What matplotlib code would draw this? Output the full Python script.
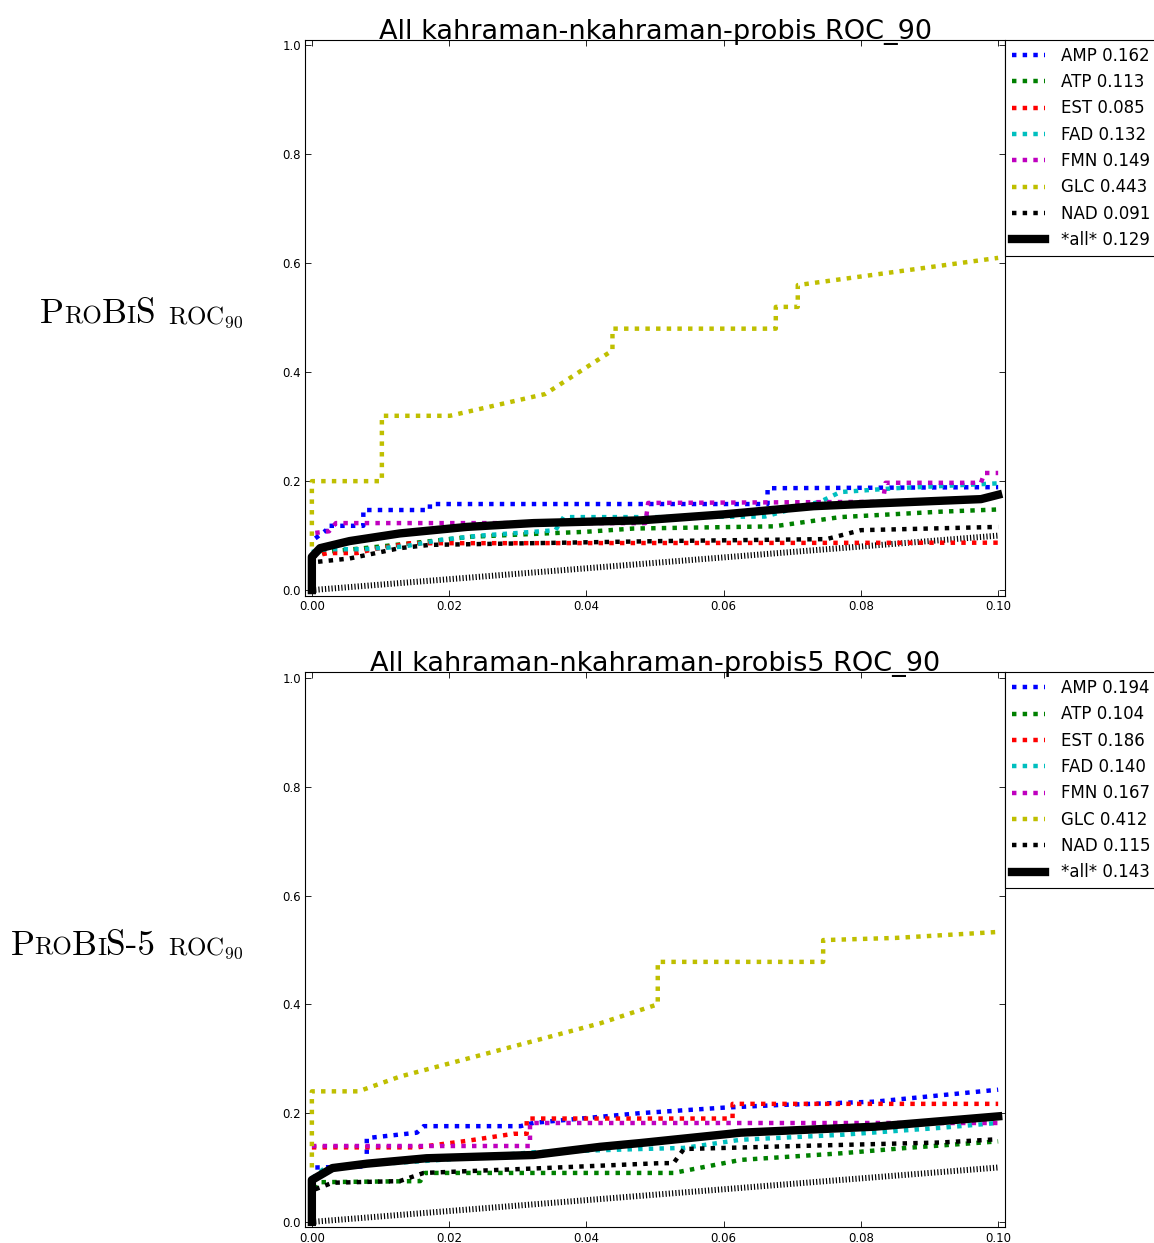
import matplotlib
matplotlib.use("Agg")
import matplotlib.pyplot as plt
from matplotlib.offsetbox import TextArea, HPacker, AnchoredOffsetbox, DrawingArea

plt.rcParams['mathtext.fontset'] = 'cm'

# ---- data --------------------------------------------------------------
ligands = ['AMP', 'ATP', 'EST', 'FAD', 'FMN', 'GLC', 'NAD']
lig_colors = ['b', 'g', 'r', 'c', 'm', 'y', 'k']

auc_probis = [0.162, 0.113, 0.085, 0.132, 0.149, 0.443, 0.091]
auc_all_probis = 0.129
auc_probis5 = [0.194, 0.104, 0.186, 0.140, 0.167, 0.412, 0.115]
auc_all_probis5 = 0.143

rand_x = [0.0, 0.1]
rand_y = [0.0, 0.1]

# probis (top panel)
p1_amp_x = [0.0005, 0.0021, 0.0021, 0.0075, 0.0075, 0.0172, 0.0172, 0.0664, 0.0664, 0.1]
p1_amp_y = [0.095, 0.11, 0.118, 0.118, 0.147, 0.147, 0.158, 0.158, 0.187, 0.189]
p1_atp_x = [0.0, 0.002, 0.01, 0.0233, 0.0321, 0.0399, 0.0469, 0.0673, 0.077, 0.0917, 0.1]
p1_atp_y = [0.06, 0.07, 0.08, 0.098, 0.103, 0.107, 0.113, 0.117, 0.134, 0.144, 0.148]
p1_est_x = [0.0, 0.0024, 0.0066, 0.009, 0.0144, 0.1]
p1_est_y = [0.062, 0.068, 0.068, 0.075, 0.086, 0.087]
p1_fad_x = [0.0, 0.002, 0.0075, 0.0134, 0.0187, 0.0245, 0.0323, 0.0355, 0.0367, 0.0505,
            0.066, 0.0742, 0.077, 0.085, 0.1]
p1_fad_y = [0.07, 0.075, 0.075, 0.08, 0.092, 0.10, 0.107, 0.11, 0.134, 0.134,
            0.135, 0.163, 0.18, 0.187, 0.196]
p1_fmn_x = [0.0005, 0.0025, 0.0035, 0.0486, 0.049, 0.0832, 0.0836, 0.0975, 0.098, 0.1]
p1_fmn_y = [0.105, 0.108, 0.123, 0.123, 0.16, 0.162, 0.197, 0.197, 0.215, 0.215]
p1_glc_x = [0.0, 0.0, 0.0102, 0.0102, 0.0201, 0.034, 0.0438, 0.0438, 0.0676, 0.0676,
            0.0708, 0.0708, 0.1]
p1_glc_y = [0.08, 0.2, 0.2, 0.32, 0.32, 0.36, 0.44, 0.48, 0.48, 0.52,
            0.52, 0.56, 0.61]
p1_nad_x = [0.0009, 0.0055, 0.0128, 0.0172, 0.051, 0.075, 0.08, 0.1]
p1_nad_y = [0.052, 0.058, 0.077, 0.083, 0.09, 0.0936, 0.11, 0.116]
p1_all_x = [0.0, 0.0, 0.0012, 0.0055, 0.0128, 0.0226, 0.0323, 0.0479, 0.06, 0.0731,
            0.082, 0.0975, 0.1]
p1_all_y = [0.0, 0.061, 0.077, 0.09, 0.104, 0.116, 0.123, 0.128, 0.139, 0.154,
            0.159, 0.167, 0.175]

# probis5 (bottom panel)
p5_amp_x = [0.0005, 0.008, 0.008, 0.0153, 0.0163, 0.0304, 0.0323, 0.0479, 0.06, 0.0683,
            0.082, 0.1]
p5_amp_y = [0.1, 0.102, 0.154, 0.164, 0.176, 0.176, 0.182, 0.2, 0.21, 0.215,
            0.221, 0.243]
p5_atp_x = [0.0005, 0.001, 0.0158, 0.0165, 0.0527, 0.0625, 0.077, 0.0867, 0.1]
p5_atp_y = [0.06, 0.073, 0.075, 0.09, 0.09, 0.114, 0.126, 0.136, 0.148]
p5_est_x = [0.0, 0.0153, 0.0226, 0.0294, 0.0313, 0.0313, 0.0613, 0.0613, 0.1]
p5_est_y = [0.137, 0.137, 0.149, 0.162, 0.162, 0.19, 0.19, 0.217, 0.217]
p5_fad_x = [0.0, 0.002, 0.008, 0.02, 0.0323, 0.0479, 0.0542, 0.0625, 0.077, 0.0917, 0.1]
p5_fad_y = [0.08, 0.1, 0.105, 0.115, 0.128, 0.134, 0.136, 0.151, 0.16, 0.173, 0.182]
p5_fmn_x = [0.0, 0.0318, 0.0318, 0.1]
p5_fmn_y = [0.14, 0.14, 0.181, 0.181]
p5_glc_x = [0.0, 0.0, 0.0068, 0.0128, 0.0274, 0.042, 0.0504, 0.0504, 0.0745, 0.0745,
            0.085, 0.1]
p5_glc_y = [0.1, 0.24, 0.24, 0.267, 0.316, 0.365, 0.40, 0.478, 0.478, 0.518,
            0.522, 0.533]
p5_nad_x = [0.0005, 0.003, 0.0128, 0.0163, 0.032, 0.0508, 0.0527, 0.0542, 0.0723,
            0.0917, 0.1]
p5_nad_y = [0.06, 0.072, 0.075, 0.09, 0.098, 0.108, 0.108, 0.134, 0.14, 0.146, 0.152]
p5_all_x = [0.0, 0.0, 0.003, 0.008, 0.0167, 0.0323, 0.042, 0.0479, 0.0625, 0.082, 0.1]
p5_all_y = [0.0, 0.077, 0.099, 0.107, 0.117, 0.123, 0.138, 0.145, 0.164, 0.175, 0.194]

probis_x = [p1_amp_x, p1_atp_x, p1_est_x, p1_fad_x, p1_fmn_x, p1_glc_x, p1_nad_x]
probis_y = [p1_amp_y, p1_atp_y, p1_est_y, p1_fad_y, p1_fmn_y, p1_glc_y, p1_nad_y]
probis5_x = [p5_amp_x, p5_atp_x, p5_est_x, p5_fad_x, p5_fmn_x, p5_glc_x, p5_nad_x]
probis5_y = [p5_amp_y, p5_atp_y, p5_est_y, p5_fad_y, p5_fmn_y, p5_glc_y, p5_nad_y]

xticks = [0.0, 0.02, 0.04, 0.06, 0.08, 0.10]
yticks = [0.0, 0.2, 0.4, 0.6, 0.8, 1.0]


def draw_panel(ax, xs, ys, aucs, all_x, all_y, all_auc, title):
    ax.plot(rand_x, rand_y, color='k', lw=4.3, linestyle=(0, (0.2, 0.35)))
    for x, y, name, c, a in zip(xs, ys, ligands, lig_colors, aucs):
        ax.plot(x, y, color=c, lw=3.2, linestyle=(0, (1, 1.4)),
                label='%s %.3f' % (name, a))
    ax.plot(all_x, all_y, color='k', lw=6, label='*all* %.3f' % all_auc)
    ax.set_xlim(-0.001, 0.101)
    ax.set_ylim(-0.01, 1.01)
    ax.set_xticks(xticks)
    ax.set_xticklabels(['%.2f' % t for t in xticks])
    ax.set_yticks(yticks)
    ax.set_yticklabels(['%.1f' % t for t in yticks])
    ax.tick_params(direction='in', top=True, right=True, labelsize=8.5,
                   length=4, width=0.6, pad=3)
    ax.set_title(title, fontsize=19.5, pad=1)
    leg = ax.legend(loc='upper left', bbox_to_anchor=(1, 1), borderaxespad=0,
                    fancybox=False, edgecolor='k', framealpha=1, fontsize=12,
                    handlelength=2, handletextpad=0.95)
    leg.get_frame().set_linewidth(0.8)


def side_label(fig, parts, y):
    kids = []
    for txt, fs in parts:
        if txt == ' ':
            kids.append(DrawingArea(9, 0))
        else:
            kids.append(TextArea(txt, textprops=dict(fontsize=fs, family='cmr10')))
    box = HPacker(children=kids, align='baseline', pad=0, sep=0)
    anch = AnchoredOffsetbox(loc='center right', child=box, pad=0, borderpad=0,
                             frameon=False, bbox_to_anchor=(0.211, y),
                             bbox_transform=fig.transFigure)
    fig.add_artist(anch)


fig = plt.figure(figsize=(11.54, 12.43), dpi=100)
ax1 = fig.add_axes([0.2643, 0.5209, 0.6066, 0.4469])
ax2 = fig.add_axes([0.2643, 0.0126, 0.6066, 0.4464])

draw_panel(ax1, probis_x, probis_y, auc_probis, p1_all_x, p1_all_y, auc_all_probis,
           'All kahraman-nkahraman-probis ROC_90')
draw_panel(ax2, probis5_x, probis5_y, auc_probis5, p5_all_x, p5_all_y, auc_all_probis5,
           'All kahraman-nkahraman-probis5 ROC_90')

big, small = 25.5, 18
side_label(fig, [('P', big), ('RO', small), ('B', big), ('I', small), ('S', big),
                 (' ', 0), (r'$\mathrm{ROC}_{90}$', small)], 0.747)
side_label(fig, [('P', big), ('RO', small), ('B', big), ('I', small), ('S-5', big),
                 (' ', 0), (r'$\mathrm{ROC}_{90}$', small)], 0.239)

fig.savefig('out.png', dpi=100, facecolor='white')
